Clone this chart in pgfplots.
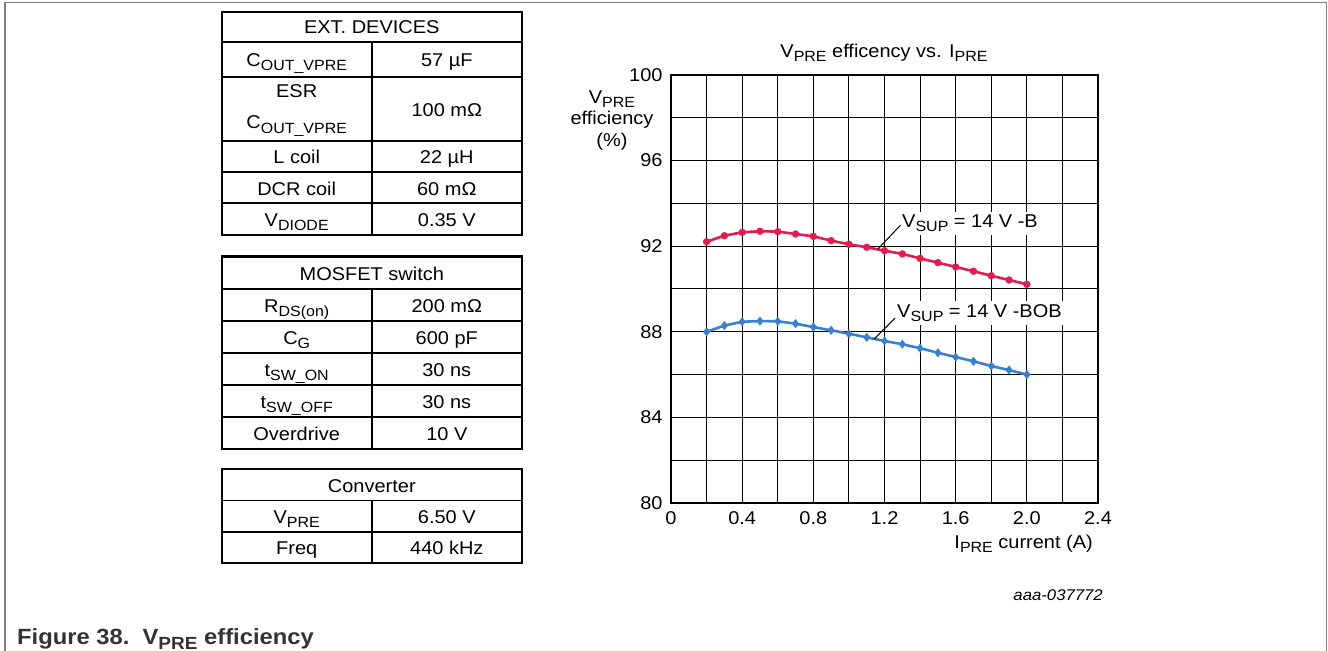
\documentclass[border=0pt]{standalone}
\usepackage{fontspec}
\setmainfont{Liberation Sans}[FakeStretch=1.08]
\usepackage{graphicx}
\usepackage{pgfplots}
\pgfplotsset{compat=1.18}
\definecolor{cred}{RGB}{226,28,78}
\definecolor{cblue}{RGB}{58,128,206}
\definecolor{framegray}{RGB}{128,128,128}
\newcommand{\sub}[1]{\raisebox{-0.22em}{\scalebox{0.8}{#1}}}
\newcommand{\fs}{\fontsize{18.5bp}{21.5bp}\selectfont}
\newcommand{\cell}[3]{\node[anchor=base, inner sep=0pt, font=\fs] at (#1, #2-7.3) {#3};}
\begin{document}
\begin{tikzpicture}[x=1bp,y=1bp]
\useasboundingbox (0,0) rectangle (1328,651);
\draw[framegray, line width=1.5bp] (5,0) -- (5,648.3) -- (1326.5,648.3) -- (1326.5,0);

% ---------- Table 1
\draw[line width=2.2bp] (221.7,416) rectangle (522,639.3);
\foreach \yy in {609.3,573.7,510.3,478.7,447.7} {\draw[line width=1.8bp] (221.7,\yy) -- (522,\yy);}
\draw[line width=1.8bp] (371.7,416) -- (371.7,609.3);
\cell{371.8}{624.3}{EXT. DEVICES}
\cell{296.7}{591.5}{C\sub{OUT\_VPRE}}
\cell{446.8}{591.5}{57 µF}
\cell{296.7}{561}{ESR}
\cell{296.7}{529.3}{C\sub{OUT\_VPRE}}
\cell{446.8}{542}{100 mΩ}
\cell{296.7}{494.5}{L coil}
\cell{446.8}{494.5}{22 µH}
\cell{296.7}{463.2}{DCR coil}
\cell{446.8}{463.2}{60 mΩ}
\cell{296.7}{431.85}{V\sub{DIODE}}
\cell{446.8}{431.85}{0.35 V}

% ---------- Table 2
\draw[line width=2.2bp] (221.7,202) rectangle (522,394.5);
\foreach \yy in {362,330,298,266,234} {\draw[line width=1.8bp] (221.7,\yy) -- (522,\yy);}
\draw[line width=1.8bp] (371.7,202) -- (371.7,362);
\cell{371.8}{378.25}{MOSFET switch}
\cell{296.7}{346}{R\sub{DS(on)}}
\cell{446.8}{346}{200 mΩ}
\cell{296.7}{314}{C\sub{G}}
\cell{446.8}{314}{600 pF}
\cell{296.7}{282}{t\sub{SW\_ON}}
\cell{446.8}{282}{30 ns}
\cell{296.7}{250}{t\sub{SW\_OFF}}
\cell{446.8}{250}{30 ns}
\cell{296.7}{218}{Overdrive}
\cell{446.8}{218}{10 V}

% ---------- Table 3
\draw[line width=2.2bp] (221.7,87.7) rectangle (522,181.7);
\foreach \yy in {150.5,119} {\draw[line width=1.8bp] (221.7,\yy) -- (522,\yy);}
\draw[line width=1.8bp] (371.7,87.7) -- (371.7,150.5);
\cell{371.8}{166.1}{Converter}
\cell{296.7}{134.75}{V\sub{PRE}}
\cell{446.8}{134.75}{6.50 V}
\cell{296.7}{103.35}{Freq}
\cell{446.8}{103.35}{440 kHz}

% ---------- Chart
\begin{axis}[at={(671bp,148bp)}, anchor=south west, scale only axis,
  width=427bp, height=428bp,
  xmin=0, xmax=2.4, ymin=80, ymax=100,
  xtick={0,0.4,0.8,1.2,1.6,2.0,2.4},
  xticklabels={0,0.4,0.8,1.2,1.6,2.0,2.4},
  minor xtick={0.2,0.6,1.0,1.4,1.8,2.2},
  ytick={80,84,88,92,96,100},
  yticklabels={80,84,88,92,96,100},
  minor ytick={82,86,90,94,98},
  grid=both,
  major grid style={black, line width=1bp},
  minor grid style={black, line width=1bp},
  major tick length=0pt, minor tick length=0pt,
  axis line style={black, line width=1.2bp},
  tick label style={font=\fs, text=black},
  /pgf/number format/assume math mode=true,
  xticklabel style={yshift=-5bp},
  yticklabel style={xshift=-5bp},
  clip=false]
\addplot[cred, line width=2.6bp, mark=*, mark size=3.4bp, mark options={fill=cred, draw=cred, line width=0.5bp}] coordinates {
(0.2,92.21) (0.3,92.49) (0.4,92.65) (0.5,92.70) (0.6,92.68) (0.7,92.57) (0.8,92.46) (0.9,92.26) (1.0,92.09) (1.1,91.95)
(1.2,91.79) (1.3,91.64) (1.4,91.43) (1.5,91.23) (1.6,91.03) (1.7,90.83) (1.8,90.62) (1.9,90.42) (2.0,90.22)};
\addplot[cblue, line width=2.6bp, mark=diamond*, mark size=4.2bp, mark options={fill=cblue, draw=cblue, line width=0.5bp}] coordinates {
(0.2,88.00) (0.3,88.29) (0.4,88.47) (0.5,88.50) (0.6,88.49) (0.7,88.38) (0.8,88.22) (0.9,88.07) (1.0,87.91) (1.1,87.74)
(1.2,87.57) (1.3,87.42) (1.4,87.23) (1.5,87.02) (1.6,86.82) (1.7,86.62) (1.8,86.40) (1.9,86.21) (2.0,86.00)};
\node[fill=white, anchor=west, inner sep=3bp, font=\fs] at (axis cs:1.2815,93.08) {V\sub{SUP} = 14 V -B};
\node[fill=white, anchor=west, inner sep=3bp, font=\fs] at (axis cs:1.2534,88.88) {V\sub{SUP} = 14 V -BOB};
\draw[black, line width=1bp] (axis cs:1.163,91.87) -- (axis cs:1.291,92.99);
\draw[black, line width=1bp] (axis cs:1.141,87.66) -- (axis cs:1.259,88.64);
\end{axis}

\node[font=\fs] at (884,598) {V\sub{PRE} efficency vs. I\sub{PRE}};
\node[align=center, font=\fs] at (612,530.5) {V\sub{PRE}\\efficiency\\(\%)};
\node[anchor=base east, inner sep=0pt, font=\fs] at (1093,102.4) {I\sub{PRE} current (A)};
\node[anchor=base east, inner sep=0pt, font=\fontsize{15.5bp}{18bp}\selectfont\itshape] at (1103,50.5) {aaa-037772};
\node[anchor=base west, inner sep=0pt, text=black!80, font=\fontsize{22bp}{25bp}\selectfont\bfseries] at (17,6) {Figure 38.\hspace{0.6em}V\sub{PRE} efficiency};
\end{tikzpicture}
\end{document}
